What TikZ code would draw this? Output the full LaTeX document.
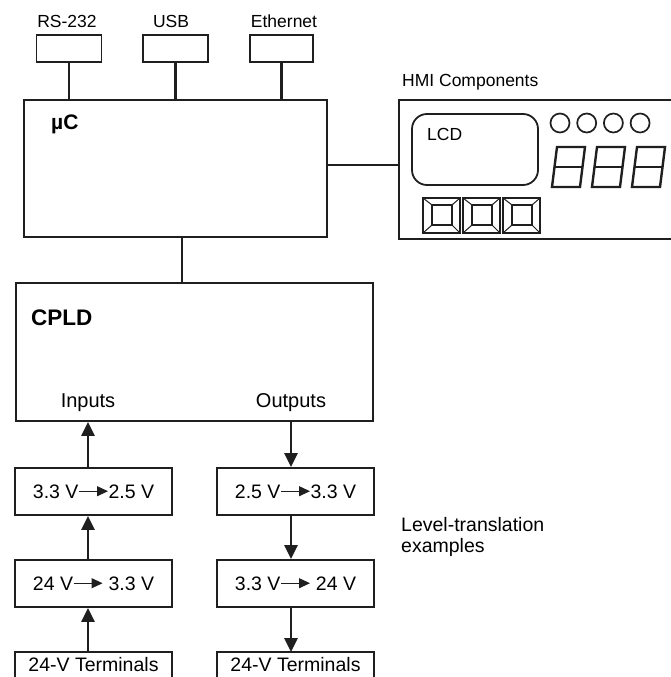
\documentclass[tikz,border=0pt]{standalone}
\usepackage{fontspec}
\setmainfont{Liberation Sans}
\usetikzlibrary{arrows.meta, positioning, calc}
\colorlet{inkline}{black!88}
\newcommand{\lvarrow}{\tikz[baseline={(0pt,-7pt)}]\draw[inkline, line width=1pt, -{Triangle[length=11pt,width=10pt]}] (0pt,0pt) -- (29pt,0pt);}
\newcommand{\hmikey}[2]{%
  \draw[inkline, line width=1.8pt] (#1,#2) rectangle ++(37,35);
  \draw[inkline, line width=1.5pt] (#1+9,#2+7) rectangle ++(20,20);
  \draw[inkline, line width=1pt] (#1,#2) -- ++(9,7) (#1+37,#2) -- ++(-8,7)
    (#1,#2+35) -- ++(9,-8) (#1+37,#2+35) -- ++(-8,-8);%
}
\newcommand{\segdigit}[2]{%
  \draw[inkline, line width=2.4pt, line join=miter] (#1,#2) -- ++(28,0) -- ++(5,-40) -- ++(-28,0) -- cycle;
  \draw[inkline, line width=2.4pt] (#1+2.5,#2-20) -- ++(28,0);%
}
\tikzset{
  blk/.style={draw=inkline, line width=1.8pt, inner sep=0pt},
  portbox/.style={blk, minimum width=65pt, minimum height=27pt},
  lvlbox/.style={blk, minimum width=157pt, minimum height=47pt, font=\fontsize{19.5}{21}\selectfont},
  termbox/.style={inner sep=0pt, minimum width=157pt, minimum height=25pt, font=\fontsize{19.5}{21}\selectfont},
  txt/.style={inner sep=0pt, font=\fontsize{17.5}{19}\selectfont},
  link/.style={draw=inkline, line width=2.8pt},
  flow/.style={link, -{Triangle[length=14pt,width=13pt]}}
}
\begin{document}
\begin{tikzpicture}[x=1pt, y=-1pt]
    \useasboundingbox (0,0) rectangle (671,677);

    % ports
    \node[portbox] (rs) at (69,48.5) {};
    \node[portbox] (usb) at (175.5,48.5) {};
    \node[portbox, minimum width=63pt] (eth) at (281.5,48.5) {};
    \node[txt] (rslbl) at (67,21) {RS-232};
    \node[txt] (usblbl) at (171,21) {USB};
    \node[txt] (ethlbl) at (284,21) {Ethernet};

    % controller
    \node[blk, minimum width=303pt, minimum height=137pt] (uc) at (175.5,168.5) {};
    \node[txt, anchor=west, font=\fontsize{21}{23}\bfseries] (uclbl) at (51,124) {µC};
    \draw[link] (rs.south) -- (rs.south |- uc.north);
    \draw[link] (usb.south) -- (usb.south |- uc.north);
    \draw[link] (eth.south) -- (eth.south |- uc.north);

    % HMI panel
    \node[txt, anchor=west] (hmilbl) at (402,82) {HMI Components};
    \node[blk, anchor=north west, minimum width=290pt, minimum height=139pt] (hmi) at (398,99) {};
    \draw[link] (uc.east |- 0,165) -- (hmi.west |- 0,165);
    \draw[inkline, line width=1.8pt, rounded corners=15pt] (412,114) rectangle (538,185);
    \node[txt, anchor=west] (lcd) at (427,134) {LCD};
    \foreach \i in {0,...,3}
      \draw[inkline, line width=1.7pt] (560+26.7*\i,123) circle (9.5);
    \segdigit{552}{187} \segdigit{592}{187} \segdigit{632}{187}
    \hmikey{423}{198} \hmikey{463}{198} \hmikey{503}{198}

    % CPLD
    \node[blk, minimum width=357pt, minimum height=138pt] (cpld) at (194.5,352) {};
    \node[txt, anchor=west, font=\fontsize{22.5}{24}\bfseries] (cpldlbl) at (31,318) {CPLD};
    \draw[link] ([xshift=6.5pt]uc.south) -- ([xshift=6.5pt]uc.south |- cpld.north);
    \node[txt, font=\fontsize{20}{22}\selectfont] (inlbl) at (88,403) {Inputs};
    \node[txt, font=\fontsize{20}{22}\selectfont] (outlbl) at (291,403) {Outputs};

    % inputs
    \node[lvlbox] (in1) at (93.5,491.5) {3.3 V\lvarrow 2.5 V};
    \node[lvlbox] (in2) at (93.5,583.5) {24 V\lvarrow\ 3.3 V};
    \node[termbox, anchor=north] (in3) at (93.5,652) {24-V Terminals};
    \draw[blk] (in3.south west) -- (in3.north west) -- (in3.north east) -- (in3.south east);
    \draw[flow] (in1.north -| inlbl) -- (cpld.south -| inlbl);
    \draw[flow] (in2.north -| inlbl) -- (in1.south -| inlbl);
    \draw[flow] (in3.north -| inlbl) -- (in2.south -| inlbl);

    % outputs
    \node[lvlbox] (out1) at (295.5,491.5) {2.5 V\lvarrow 3.3 V};
    \node[lvlbox] (out2) at (295.5,583.5) {3.3 V\lvarrow\ 24 V};
    \node[termbox, anchor=north] (out3) at (295.5,652) {24-V Terminals};
    \draw[blk] (out3.south west) -- (out3.north west) -- (out3.north east) -- (out3.south east);
    \draw[flow] (cpld.south -| outlbl) -- (out1.north -| outlbl);
    \draw[flow] (out1.south -| outlbl) -- (out2.north -| outlbl);
    \draw[flow] (out2.south -| outlbl) -- (out3.north -| outlbl);

    \node[txt, anchor=west, align=left, font=\fontsize{19.5}{21}\selectfont] (note) at (401,537) {Level-translation\\examples};
  \end{tikzpicture}
\end{document}
